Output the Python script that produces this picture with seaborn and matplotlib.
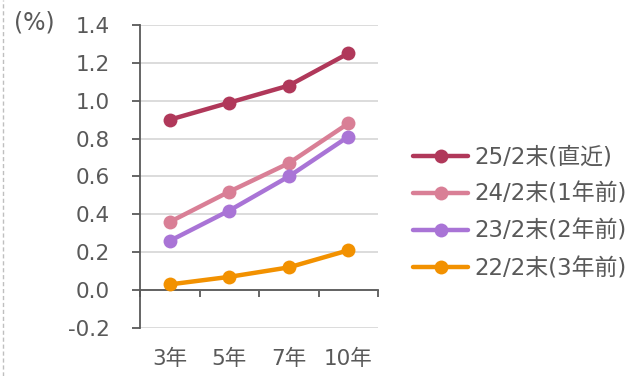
import matplotlib
matplotlib.use("Agg")
import matplotlib.pyplot as plt
import seaborn as sns
import pandas as pd
from matplotlib.lines import Line2D

categories = ["3年", "5年", "7年", "10年"]
series_names = ["25/2末(直近)", "24/2末(1年前)", "23/2末(2年前)", "22/2末(3年前)"]
s25 = [0.90, 0.99, 1.08, 1.25]
s24 = [0.36, 0.52, 0.67, 0.88]
s23 = [0.26, 0.42, 0.60, 0.81]
s22 = [0.03, 0.07, 0.12, 0.21]
colors = ["#B0385A", "#D97F96", "#A974D6", "#F29100"]
yticks = [-0.2, 0.0, 0.2, 0.4, 0.6, 0.8, 1.0, 1.2, 1.4]

sns.set_theme(style="white")
plt.rcParams['font.family'] = ['DejaVu Sans', 'Noto Sans CJK JP']

rows = []
for name, vals in zip(series_names, [s25, s24, s23, s22]):
    for i, (c, v) in enumerate(zip(categories, vals)):
        rows.append({"pos": i, "cat": c, "series": name, "value": v})
df = pd.DataFrame(rows)

fig = plt.figure(figsize=(6.37, 3.76), dpi=100)
ax = fig.add_axes([0.2198, 0.1277, 0.3736, 0.8058])

sns.lineplot(data=df, x="pos", y="value", hue="series", hue_order=series_names,
             palette=colors, marker="o", markersize=10, markeredgewidth=0,
             linewidth=3.2, ax=ax, legend=True, zorder=3)

tc = "#595959"
fs = 15.5
ax.set_xlim(-0.5, 3.5)
ax.set_ylim(-0.2, 1.4)
ax.set_yticks(yticks)
ax.set_yticklabels([f"{t:.1f}" for t in yticks])
ax.yaxis.grid(True, color="#D9D9D9", linewidth=1.3, zorder=0)
ax.xaxis.grid(False)
for s in ["top", "right"]:
    ax.spines[s].set_visible(False)
ax.spines["left"].set_color(tc)
ax.spines["left"].set_linewidth(1.3)
ax.spines["bottom"].set_position(("data", 0))
ax.spines["bottom"].set_color(tc)
ax.spines["bottom"].set_linewidth(1.3)

ax.set_xticks(range(len(categories)))
ax.set_xticklabels(categories)
ax.set_xticks([-0.5, 0.5, 1.5, 2.5, 3.5], minor=True)
ax.tick_params(axis="x", which="both", bottom=True)
ax.tick_params(axis="y", which="both", left=True)
ax.tick_params(axis="x", which="major", length=0, pad=42, labelsize=fs, colors=tc)
ax.tick_params(axis="x", which="minor", length=5, width=1.3, color=tc, direction="out")
ax.tick_params(axis="y", which="major", length=6, width=1.3, color=tc, direction="out",
               labelsize=fs, labelcolor=tc, pad=16)
ax.set_xlabel("")
ax.set_ylabel("")

handles, labels = ax.get_legend_handles_labels()
ax.legend(handles, labels, loc="center left", bbox_to_anchor=(1.11, 0.38),
          frameon=False, fontsize=16.5, labelcolor=tc, handlelength=2.4,
          handletextpad=0.25, labelspacing=0.62, borderaxespad=0)

fig.text(0.022, 0.94, "(%)", fontsize=17, color=tc, ha="left", va="center")
fig.add_artist(Line2D([0.004, 0.004], [0, 1], transform=fig.transFigure,
                      color="#BFBFBF", linewidth=1, linestyle=(0, (3, 2))))

fig.savefig("out.png", dpi=100)
